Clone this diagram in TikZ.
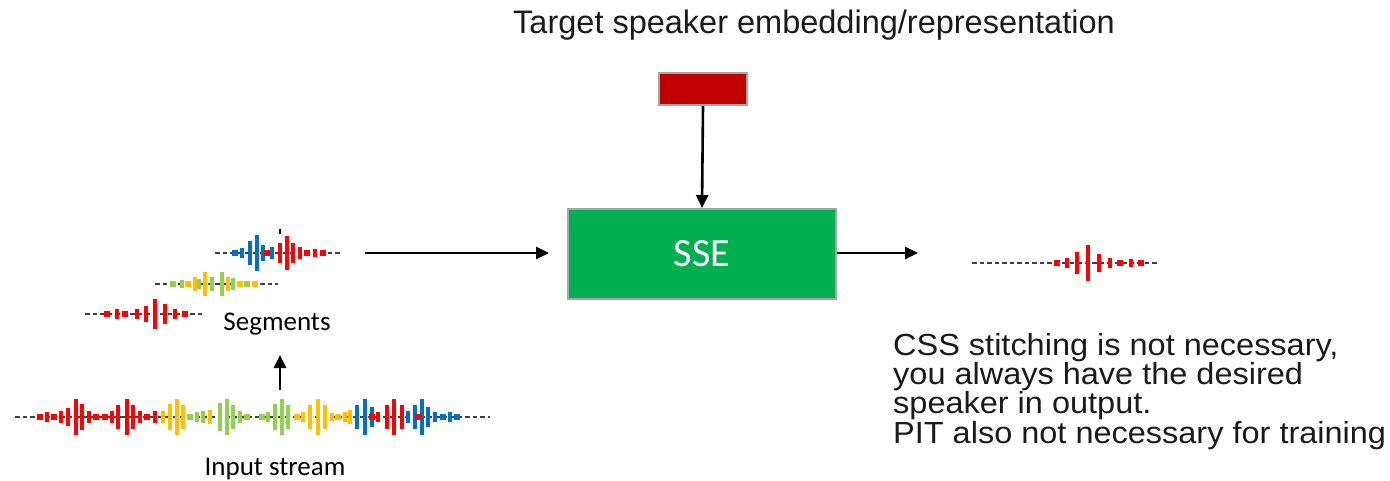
\documentclass[tikz,border=0pt]{standalone}
\usepackage{fontspec}
\setmainfont{Liberation Sans}
\newfontfamily\calfont{Carlito}
\usetikzlibrary{arrows.meta}
\definecolor{wR}{HTML}{FF0000}
\definecolor{wB}{HTML}{0070C0}
\definecolor{wY}{HTML}{FFC000}
\definecolor{wG}{HTML}{92D050}
\definecolor{embred}{HTML}{C00000}
\definecolor{ssegreen}{HTML}{00B050}
\definecolor{boxborder}{HTML}{A6A6A6}
\definecolor{txtgray}{HTML}{1A1A1A}
\tikzset{
  box/.style={draw=boxborder, line width=2pt, inner sep=0pt, anchor=north west},
  conn/.style={line width=2.6pt, -{Triangle[length=13pt,width=12pt]}},
  wdash/.style={draw=black!75, line width=2pt, dash pattern=on 4.5pt off 3pt},
  armtext/.style={font=\fontsize{32.5}{32.5}\selectfont, text=txtgray, inner sep=0pt},
  notetext/.style={font=\fontsize{30.5}{30.5}\selectfont, text=txtgray, inner sep=0pt, anchor=base west},
  caltext/.style={font=\calfont\fontsize{27}{27}\selectfont, inner sep=0pt},
}
\newcommand\wave[4]{% y, x0, x1, list
  \draw[wdash] (#2,#1) -- (#3,#1);
  \foreach \xx/\hh/\cc in {#4}{
    \pgfmathsetmacro\ww{\hh<3.5?3:2.3}
    \pgfmathsetmacro\hv{\hh<3.5?3:\hh}
    \fill[\cc] (\xx-\ww,#1-\hv) rectangle (\xx+\ww,#1+\hv);
  }
}
\newcommand\widen[1]{\scalebox{1.065}[1]{#1}}
\begin{document}
\begin{tikzpicture}[x=1pt,y=-1pt]
\fill[white] (0,0) rectangle (1390,480);
\useasboundingbox (0,0) rectangle (1390,480);

% title
\node[armtext, anchor=base] (title) at (814,33) {Target speaker embedding/representation};

% boxes
\node[box, fill=embred, minimum width=88pt, minimum height=32pt] (emb) at (658,72) {};
\node[box, fill=ssegreen, minimum width=268pt, minimum height=90pt] (sse) at (567,208) {};
\node[font=\calfont\fontsize{40}{40}\selectfont, text=white] (ssetxt) at (sse.center) {SSE};

% connectors
\coordinate (segout) at (365,253);
\coordinate (outin) at (918,253);
\coordinate (instreamtop) at (280,390);
\coordinate (segbottom) at (280,355);
\draw[conn] (emb.south) -- (sse.north);
\draw[conn] (segout) -- ([xshift=-18pt]sse.west |- segout);
\draw[conn] (sse.east |- outin) -- (outin);
\draw[conn] (instreamtop) -- (segbottom);

% segments
\fill[black] (278.5,229) rectangle (281,234);
\wave{253}{215}{340}{235/2.5/wB,242/5/wB,250/12/wB,257/18/wB,263/8/wB,272/6/wB,267/2.5/wR,280/10/wR,287/17/wR,293/10/wR,300/6/wR,307/2.5/wR,315/4/wR,323/2.5/wR}
\wave{284}{155}{278}{173/2.5/wG,182/4/wG,188/2.5/wY,195/7/wY,199/5/wG,205/12/wY,212/7/wG,222/12/wG,228/7/wY,233/6/wG,240/2.5/wY,247/2.5/wG,255/2.5/wY}
\wave{314}{85}{202}{107/2.5/wR,117/5/wR,125/2.5/wR,137/5/wR,146/8/wR,155/15/wR,165/10/wR,175/5/wR,185/2.5/wR}
\node[caltext, anchor=base] (seglabel) at (277,330) {Segments};

% input stream
\wave{417}{15}{490}{40/2.5/wR,47/5/wR,54/2.5/wR,61/6/wR,68/9/wR,76/18/wR,82/13/wR,89/6/wR,96/2.5/wR,105/2.5/wR,112/6/wR,118/12/wR,127/18/wR,133/12/wR,140/6/wR,147/2.5/wR,155/6/wR,163/6/wY,170/13/wY,177/18/wY,183/12/wY,190/2.5/wG,197/5/wG,203/6/wG,210/7/wY,220/14/wG,227/18/wG,233/12/wG,240/6/wG,247/2.5/wG,262/2.5/wG,268/5/wG,275/13/wG,282/18/wG,288/12/wG,297/2.5/wY,303/5/wY,310/12/wY,318/18/wY,325/12/wY,332/4/wY,338/2.5/wY,345/5/wY,350/7/wY,357/12/wB,365/18/wB,372/10/wB,372/2.5/wR,378/5/wR,387/12/wR,394/18/wR,402/12/wR,408/6/wB,415/12/wB,422/18/wB,418/3/wR,428/10/wB,435/5/wB,443/2.5/wB,450/5/wB,457/2.5/wB}
\node[caltext, anchor=base] (inlabel) at (275,475) {Input stream};

% output
\wave{263}{972}{1157}{1057/2.5/wR,1067/5/wR,1077/11/wR,1088/18/wR,1099/9/wR,1110/5/wR,1120/2.5/wR,1131/4/wR,1141/2.5/wR}

% note
\node[notetext] (note1) at (893,355) {\widen{CSS stitching is not necessary,}};
\node[notetext] (note2) at (893,384.3) {\widen{you always have the desired}};
\node[notetext] (note3) at (893,413.6) {\widen{speaker in output.}};
\node[notetext] (note4) at (893,443) {\widen{PIT also not necessary for training}};
\end{tikzpicture}
\end{document}
